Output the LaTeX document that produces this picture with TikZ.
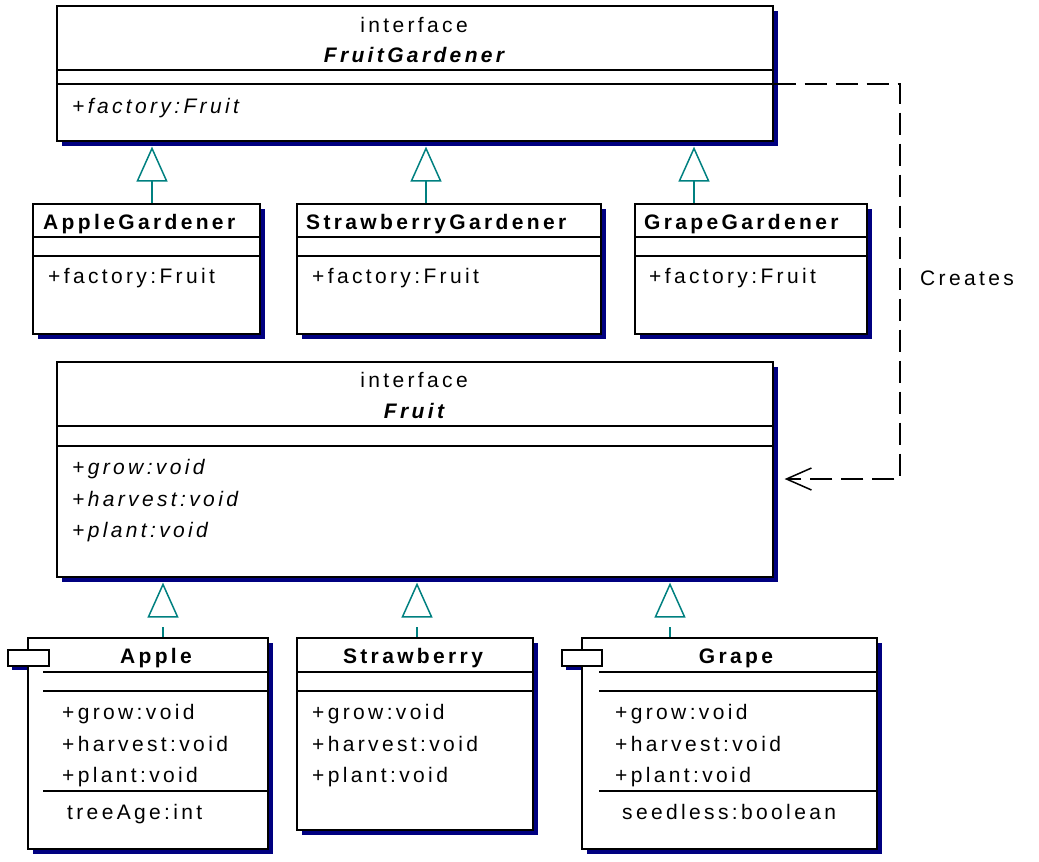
\documentclass[tikz,border=0pt]{standalone}
\usepackage{fontspec}
\newfontfamily\umlfont{Liberation Sans}[LetterSpace=16]
\usetikzlibrary{arrows.meta,shadows}
\definecolor{navy}{RGB}{0,0,128}
\definecolor{umlteal}{RGB}{0,128,128}
\tikzset{
  umlclass/.style={draw,line width=1.6pt,fill=white,anchor=north west,inner sep=0pt,
    drop shadow={shadow xshift=5pt,shadow yshift=-5pt,fill=navy,opacity=1}},
  umltab/.style={draw,line width=1.6pt,fill=white,anchor=north west,inner sep=0pt,
    minimum width=41pt,minimum height=16pt},
  txt/.style={anchor=base west,inner sep=0pt},
  title/.style={anchor=base,inner sep=0pt},
  realize/.style={draw=umlteal,line width=1.5pt,
    -{Triangle[open,length=35pt,width=31pt,line width=1.5pt]}},
  creates/.style={line width=1.6pt,dash pattern=on 22pt off 9pt,
    -{Straight Barb[length=25pt,width=22pt,line width=1.5pt]}}
}

\begin{document}
\begin{tikzpicture}[x=1pt,y=-1pt,font={\umlfont\fontsize{21pt}{25pt}\selectfont},line cap=butt]
  \useasboundingbox (0,0) rectangle (1039,862);

  % interface FruitGardener
  \node[umlclass,minimum width=716pt,minimum height=135pt] (gardener) at (56,5) {};
  \draw[line width=1.6pt] (gardener.west |- 0,70) -- (gardener.east |- 0,70);
  \draw[line width=1.6pt] (gardener.west |- 0,84) -- (gardener.east |- 0,84);
  \node[title] (gardenerkind) at (414,32) {interface};
  \node[title] (gardenername) at (414,62) {\bfseries\itshape FruitGardener};
  \node[txt] (gardenerop) at (72,113) {\itshape +factory:Fruit};

  % concrete gardeners
  \node[umlclass,minimum width=227pt,minimum height=130pt] (applegardener) at (32,203) {};
  \node[umlclass,minimum width=304pt,minimum height=130pt] (strawberrygardener) at (296,203) {};
  \node[umlclass,minimum width=232pt,minimum height=130pt] (grapegardener) at (634,203) {};
  \foreach \g in {applegardener,strawberrygardener,grapegardener}{
    \draw[line width=1.6pt] (\g.west |- 0,237) -- (\g.east |- 0,237);
    \draw[line width=1.6pt] (\g.west |- 0,256) -- (\g.east |- 0,256);
  }
  \node[txt] (applegardenername) at (43,229) {\bfseries AppleGardener};
  \node[txt] (strawberrygardenername) at (306,229) {\bfseries StrawberryGardener};
  \node[txt] (grapegardenername) at (644,229) {\bfseries GrapeGardener};
  \node[txt] (applegardenerop) at (48,283) {+factory:Fruit};
  \node[txt] (strawberrygardenerop) at (312,283) {+factory:Fruit};
  \node[txt] (grapegardenerop) at (649,283) {+factory:Fruit};

  \draw[realize] (applegardener.north -| 152,0) -- ([yshift=-5pt]gardener.south -| 152,0);
  \draw[realize] (strawberrygardener.north -| 426,0) -- ([yshift=-5pt]gardener.south -| 426,0);
  \draw[realize] (grapegardener.north -| 694,0) -- ([yshift=-5pt]gardener.south -| 694,0);

  % interface Fruit
  \node[umlclass,minimum width=716pt,minimum height=215pt] (fruit) at (56,361) {};
  \draw[line width=1.6pt] (fruit.west |- 0,426) -- (fruit.east |- 0,426);
  \draw[line width=1.6pt] (fruit.west |- 0,446) -- (fruit.east |- 0,446);
  \node[title] (fruitkind) at (414,387) {interface};
  \node[title] (fruitname) at (414,418) {\bfseries\itshape Fruit};
  \node[txt] (fruitgrow) at (72,474) {\itshape +grow:void};
  \node[txt] (fruitharvest) at (72,506) {\itshape +harvest:void};
  \node[txt] (fruitplant) at (72,537) {\itshape +plant:void};

  % Creates
  \coordinate (turntop) at (900,84);
  \coordinate (turnlow) at (900,479);
  \draw[creates,shorten >=11pt] (gardener.east |- turntop) -- (turntop) -- (turnlow) -- (fruit.east |- turnlow);
  \node[txt] (createslabel) at (920,285) {Creates};

  % fruits
  \fill[navy] (12,654) rectangle (53,670);
  \fill[navy] (566,654) rectangle (606,670);
  \node[umlclass,minimum width=240pt,minimum height=211pt] (apple) at (27,637) {};
  \node[umlclass,minimum width=236pt,minimum height=192pt] (strawberry) at (296,637) {};
  \node[umlclass,minimum width=295pt,minimum height=211pt] (grape) at (581,637) {};
  \node[umltab] (appletab) at (7,649) {};
  \node[umltab,minimum width=40pt] (grapetab) at (561,649) {};

  \draw[line width=1.6pt] (43,672) -- (apple.east |- 0,672);
  \draw[line width=1.6pt] (43,691) -- (apple.east |- 0,691);
  \draw[line width=1.6pt] (43,791) -- (apple.east |- 0,791);
  \draw[line width=1.6pt] (strawberry.west |- 0,672) -- (strawberry.east |- 0,672);
  \draw[line width=1.6pt] (strawberry.west |- 0,691) -- (strawberry.east |- 0,691);
  \draw[line width=1.6pt] (599,672) -- (grape.east |- 0,672);
  \draw[line width=1.6pt] (599,691) -- (grape.east |- 0,691);
  \draw[line width=1.6pt] (599,791) -- (grape.east |- 0,791);

  \node[title] (applename) at (156,663) {\bfseries Apple};
  \node[title] (strawberryname) at (413,663) {\bfseries Strawberry};
  \node[title] (grapename) at (736,663) {\bfseries Grape};
  \node[txt] (applegrow) at (62,719) {+grow:void};
  \node[txt] (appleharvest) at (62,751) {+harvest:void};
  \node[txt] (appleplant) at (62,782) {+plant:void};
  \node[txt] (appleage) at (67,819) {treeAge:int};
  \node[txt] (strawberrygrow) at (312,719) {+grow:void};
  \node[txt] (strawberryharvest) at (312,751) {+harvest:void};
  \node[txt] (strawberryplant) at (312,782) {+plant:void};
  \node[txt] (grapegrow) at (615,719) {+grow:void};
  \node[txt] (grapeharvest) at (615,751) {+harvest:void};
  \node[txt] (grapeplant) at (615,782) {+plant:void};
  \node[txt] (grapeseed) at (622,819) {seedless:boolean};

  \draw[realize,dash pattern=on 10pt off 10pt] (apple.north -| 163,0) -- ([yshift=-5pt]fruit.south -| 163,0);
  \draw[realize,dash pattern=on 10pt off 10pt] (strawberry.north -| 417,0) -- ([yshift=-5pt]fruit.south -| 417,0);
  \draw[realize,dash pattern=on 10pt off 10pt] (grape.north -| 670,0) -- ([yshift=-5pt]fruit.south -| 670,0);
\end{tikzpicture}
\end{document}
